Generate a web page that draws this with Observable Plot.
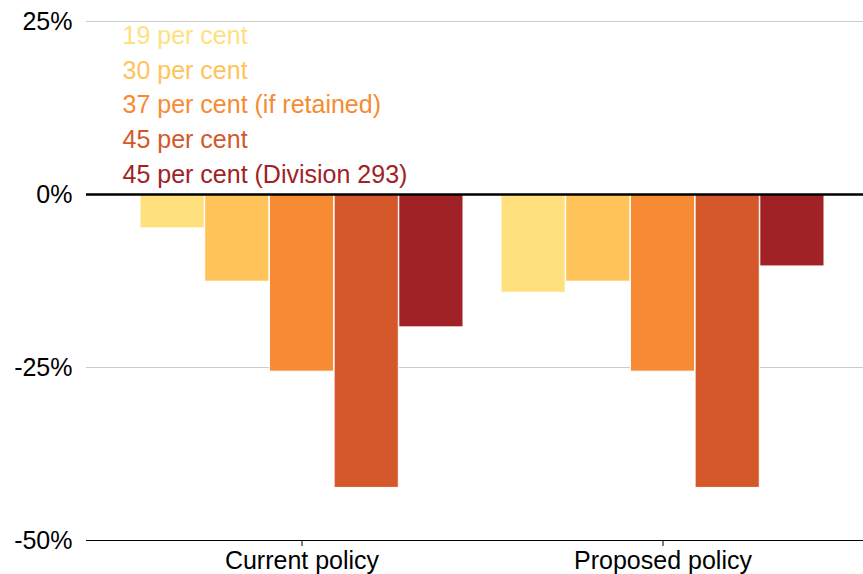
<!DOCTYPE html>
<html>
<head>
<meta charset="utf-8">
<script src="https://cdn.jsdelivr.net/npm/d3@7"></script>
<script src="https://cdn.jsdelivr.net/npm/@observablehq/plot@0.6"></script>
<style>
  html, body { margin: 0; padding: 0; background: #fff; }
  #chart { width: 863px; height: 574px; overflow: hidden; }
  #chart svg { font-family: "Liberation Sans", Arial, sans-serif; color: #000; }
</style>
</head>
<body>
<div id="chart"></div>
<script>
const policies = ["Current policy", "Proposed policy"];
const tiers = ["19 per cent", "30 per cent", "37 per cent (if retained)", "45 per cent", "45 per cent (Division 293)"];
const currentValues = [-4.9, -12.6, -25.6, -42.4, -19.2];
const proposedValues = [-14.2, -12.6, -25.6, -42.4, -10.4];
const yTicks = [25, 0, -25, -50];
const yTickLabels = ["25%", "0%", "-25%", "-50%"];

const tierColors = ["#FFE07F", "#FFC35A", "#F68B33", "#D4582A", "#A02226"];

const rows = [];
tiers.forEach((t, i) => {
  rows.push({policy: policies[0], tier: t, value: currentValues[i]});
  rows.push({policy: policies[1], tier: t, value: proposedValues[i]});
});

const W = 863, H = 574;
const mL = 86, mR = 0, mT = 21, mB = 34;
const pInner = 0.104, pOuter = 0.128;
const step = (W - mL - mR) / (policies.length - pInner + 2 * pOuter);
const bw = step * (1 - pInner);
const sub = bw / tiers.length;
const FS = 25;

const barMarks = tiers.map((t, i) =>
  Plot.barY(rows.filter(d => d.tier === t), {
    x: "policy", y: "value", fill: "tier",
    stroke: "white", strokeWidth: 1,
    insetLeft: i * sub, insetRight: (tiers.length - 1 - i) * sub
  })
);

const legendMarks = tiers.map((t, i) =>
  Plot.text([t], {
    frameAnchor: "top-left", textAnchor: "start", lineAnchor: "middle",
    dx: 36, dy: 14.3 + i * 34.8,
    text: d => d, fill: tierColors[i], fontSize: FS
  })
);

const chart = Plot.plot({
  width: W, height: H,
  marginLeft: mL, marginRight: mR, marginTop: mT, marginBottom: mB,
  style: {fontSize: FS + "px", fontFamily: "'Liberation Sans', Arial, sans-serif", background: "white", overflow: "visible"},
  x: {domain: policies, paddingInner: pInner, paddingOuter: pOuter, align: 0.584, label: null},
  y: {domain: [-50, 25], label: null},
  color: {domain: tiers, range: tierColors},
  marks: [
    Plot.ruleY([25, -25], {stroke: "#cccccc", strokeWidth: 1}),
    ...barMarks,
    Plot.ruleY([0], {stroke: "#000", strokeWidth: 2.5}),
    Plot.ruleY([-50], {stroke: "#000", strokeWidth: 1.2}),
    Plot.axisY({ticks: yTicks, tickFormat: d => yTickLabels[yTicks.indexOf(d)], tickSize: 0, tickPadding: 14, fontSize: FS, label: null}),
    Plot.axisX({tickSize: 6, tickPadding: 5, fontSize: FS, label: null, stroke: "#000"}),
    ...legendMarks
  ]
});
document.getElementById("chart").appendChild(chart);
</script>
</body>
</html>
